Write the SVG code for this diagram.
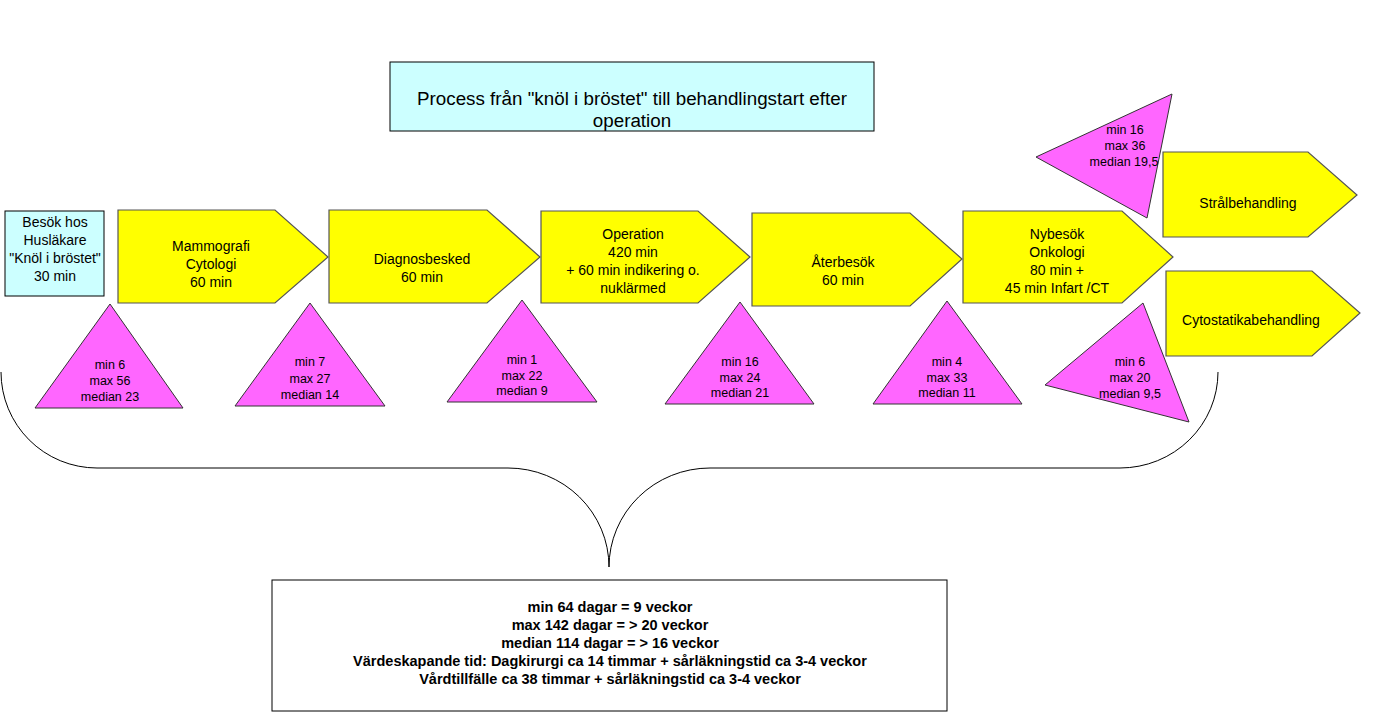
<svg xmlns="http://www.w3.org/2000/svg" width="1375" height="723" viewBox="0 0 1375 723">
<style>
text{font-family:"Liberation Sans",Arial,sans-serif;fill:#000;text-anchor:middle}
.t14{font-size:14px}
.t12{font-size:12.5px}
.title{font-size:18.8px}
.bold{font-size:14.5px;font-weight:bold}
.cyan{fill:#CCFFFF;stroke:#000;stroke-width:1}
.arrow{fill:#FFFF00;stroke:#555;stroke-width:1.2}
.tri{fill:#FF66FF;stroke:#333;stroke-width:1}
.brace{fill:none;stroke:#000;stroke-width:1}
</style>
<rect width="1375" height="723" fill="#fff"/>

<g id="title">
<rect class="cyan" x="390" y="62" width="484" height="69"/>
<text class="title" x="632" y="105">Process från "knöl i bröstet" till behandlingstart efter</text>
<text class="title" x="632" y="127">operation</text>
</g>

<g id="besok">
<rect class="cyan" x="5" y="211" width="99" height="85"/>
<text class="t14" x="55" y="227">Besök hos</text>
<text class="t14" x="55" y="245">Husläkare</text>
<text class="t14" x="55" y="263">"Knöl i bröstet"</text>
<text class="t14" x="55" y="281">30 min</text>
</g>

<g id="mammografi">
<polygon class="arrow" points="118,210 275,210 328,257 275,303 118,303"/>
<text class="t14" x="211" y="251">Mammografi</text>
<text class="t14" x="211" y="269">Cytologi</text>
<text class="t14" x="211" y="287">60 min</text>
</g>

<g id="diagnosbesked">
<polygon class="arrow" points="329,210 487,210 540,257 487,303 329,303"/>
<text class="t14" x="422" y="264">Diagnosbesked</text>
<text class="t14" x="422" y="282">60 min</text>
</g>

<g id="operation">
<polygon class="arrow" points="541,211 698,211 750,257 698,303 541,303"/>
<text class="t14" x="633" y="239">Operation</text>
<text class="t14" x="633" y="257">420 min</text>
<text class="t14" x="633" y="275">+ 60 min indikering o.</text>
<text class="t14" x="633" y="293">nuklärmed</text>
</g>

<g id="aterbesok">
<polygon class="arrow" points="752,213 910,213 962,259 910,306 752,306"/>
<text class="t14" x="843" y="267">Återbesök</text>
<text class="t14" x="843" y="285">60 min</text>
</g>

<g id="nybesok">
<polygon class="arrow" points="963,211 1122,211 1173,257 1122,303 963,303"/>
<text class="t14" x="1057" y="239">Nybesök</text>
<text class="t14" x="1057" y="257">Onkologi</text>
<text class="t14" x="1057" y="275">80 min +</text>
<text class="t14" x="1057" y="293">45 min Infart /CT</text>
</g>

<g id="stralbehandling">
<polygon class="arrow" points="1163,152 1308,152 1357,195 1308,237 1163,237"/>
<text class="t14" x="1248" y="208">Strålbehandling</text>
</g>

<g id="cytostatika">
<polygon class="arrow" points="1166,271 1312,271 1360,313 1312,356 1166,356"/>
<text class="t14" x="1251" y="325">Cytostatikabehandling</text>
</g>

<g id="tri1">
<polygon class="tri" points="110,304 183,408 35,408"/>
<text class="t12" x="110" y="369">min 6</text>
<text class="t12" x="110" y="385">max 56</text>
<text class="t12" x="110" y="401">median 23</text>
</g>

<g id="tri2">
<polygon class="tri" points="310,303 385,406 235,406"/>
<text class="t12" x="310" y="366">min 7</text>
<text class="t12" x="310" y="383">max 27</text>
<text class="t12" x="310" y="399">median 14</text>
</g>

<g id="tri3">
<polygon class="tri" points="522,300 597,402 447,402"/>
<text class="t12" x="522" y="364">min 1</text>
<text class="t12" x="522" y="380">max 22</text>
<text class="t12" x="522" y="395">median 9</text>
</g>

<g id="tri4">
<polygon class="tri" points="740,302 814,404 665,404"/>
<text class="t12" x="740" y="366">min 16</text>
<text class="t12" x="740" y="382">max 24</text>
<text class="t12" x="740" y="397">median 21</text>
</g>

<g id="tri5">
<polygon class="tri" points="947,301 1022,404 873,404"/>
<text class="t12" x="947" y="366">min 4</text>
<text class="t12" x="947" y="382">max 33</text>
<text class="t12" x="947" y="397">median 11</text>
</g>

<g id="tri6">
<polygon class="tri" points="1143,303 1189,422 1045,385"/>
<text class="t12" x="1130" y="366">min 6</text>
<text class="t12" x="1130" y="382">max 20</text>
<text class="t12" x="1130" y="398">median 9,5</text>
</g>

<g id="tri7">
<polygon class="tri" points="1172,94 1147,218 1036,157"/>
<text class="t12" x="1125" y="134">min 16</text>
<text class="t12" x="1125" y="150">max 36</text>
<text class="t12" x="1124" y="166">median 19,5</text>
</g>

<g id="connectors">
<path class="brace" d="M 1,372 A 96 96 0 0 0 97,468 L 508,468 A 101 99 0 0 1 609,567 A 101 99 0 0 1 710,468 L 1120,468 A 98 96 0 0 0 1218,372"/>
</g>

<g id="summary">
<rect x="272" y="580" width="675" height="131" fill="#fff" stroke="#000" stroke-width="1"/>
<text class="bold" x="610" y="612">min 64 dagar = 9 veckor</text>
<text class="bold" x="610" y="630">max 142 dagar = &gt; 20 veckor</text>
<text class="bold" x="610" y="648">median 114 dagar = &gt; 16 veckor</text>
<text class="bold" x="610" y="666">Värdeskapande tid: Dagkirurgi ca 14 timmar + sårläkningstid ca 3-4 veckor</text>
<text class="bold" x="610" y="684">Vårdtillfälle ca 38 timmar + sårläkningstid ca 3-4 veckor</text>
</g>
</svg>
